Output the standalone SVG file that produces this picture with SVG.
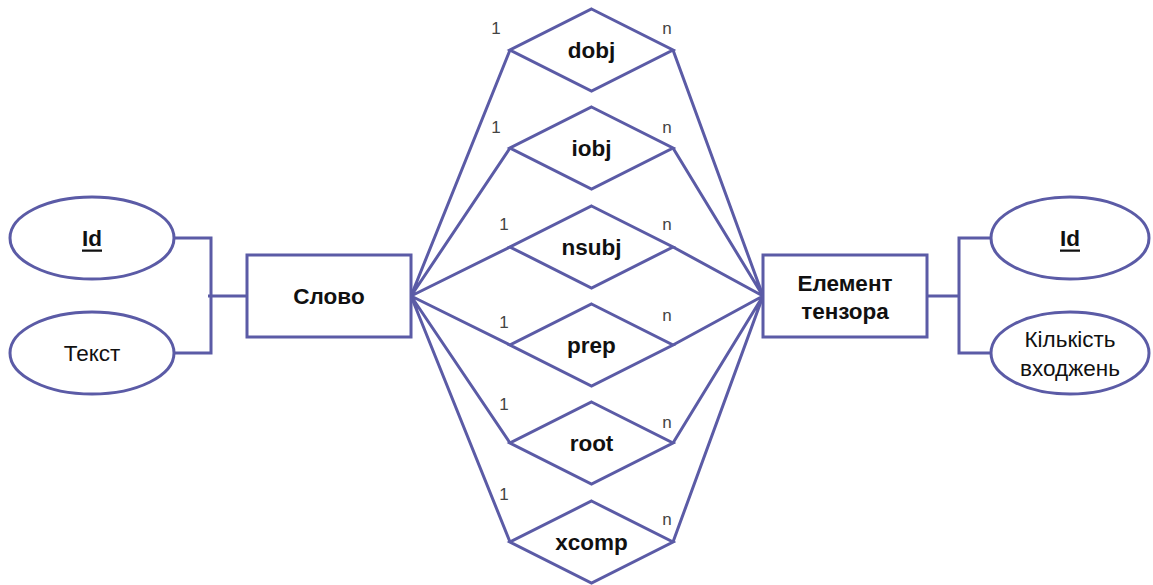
<svg xmlns="http://www.w3.org/2000/svg" width="1153" height="585" viewBox="0 0 1153 585">
<style>
.s{fill:#fff;stroke:#5b5ba6;stroke-width:3}
.c{fill:none;stroke:#5b5ba6;stroke-width:3}
.t{font-family:"Liberation Sans",Arial,sans-serif;font-size:22.5px;fill:#111;text-anchor:middle;dominant-baseline:central}
.b{font-weight:bold}
.m{font-family:"Liberation Sans",Arial,sans-serif;font-size:17px;fill:#444;text-anchor:middle;dominant-baseline:central}
</style>
<rect width="1153" height="585" fill="#fff"/>
<g id="connectors">
<path class="c" d="M174,238 H211 V353 H174 M208,296 H247"/>
<path class="c" d="M927,296 H959 M991,238 H959 V353 H991"/>
<path class="c" d="M411,296 L510,50 M411,296 L510,148 M411,296 L510,247 M411,296 L510,345 M411,296 L510,443 M411,296 L510,542"/>
<path class="c" d="M763,296 L673,50 M763,296 L673,148 M763,296 L673,247 M763,296 L673,345 M763,296 L673,443 M763,296 L673,542"/>
</g>
<g id="slovo"><rect class="s" x="247" y="255" width="164" height="82"/><text class="t b" x="329" y="296">Слово</text></g>
<g id="element"><rect class="s" x="763" y="255" width="164" height="82"/><text class="t b" x="845" y="283">Елемент</text><text class="t b" x="845" y="311">тензора</text></g>
<g id="id-left"><ellipse class="s" cx="92" cy="238" rx="82" ry="41"/><text class="t b" x="92" y="238" text-decoration="underline">Id</text></g>
<g id="tekst"><ellipse class="s" cx="92" cy="353" rx="82" ry="41"/><text class="t" x="92" y="353">Текст</text></g>
<g id="id-right"><ellipse class="s" cx="1070" cy="238" rx="79" ry="41"/><text class="t b" x="1070" y="238" text-decoration="underline">Id</text></g>
<g id="kilkist"><ellipse class="s" cx="1070" cy="353" rx="79" ry="41"/><text class="t" x="1070" y="339">Кількість</text><text class="t" x="1070" y="368">входжень</text></g>
<g id="dobj"><polygon class="s" points="591.5,9 673,50 591.5,91 510,50"/><text class="t b" x="591.5" y="50">dobj</text><text class="m" x="496" y="28">1</text><text class="m" x="667" y="28">n</text></g>
<g id="iobj"><polygon class="s" points="591.5,107 673,148 591.5,189 510,148"/><text class="t b" x="591.5" y="148">iobj</text><text class="m" x="496" y="127">1</text><text class="m" x="667" y="127">n</text></g>
<g id="nsubj"><polygon class="s" points="591.5,206 673,247 591.5,288 510,247"/><text class="t b" x="591.5" y="247">nsubj</text><text class="m" x="504" y="224">1</text><text class="m" x="667" y="224">n</text></g>
<g id="prep"><polygon class="s" points="591.5,304 673,345 591.5,386 510,345"/><text class="t b" x="591.5" y="345">prep</text><text class="m" x="504" y="322">1</text><text class="m" x="667" y="315">n</text></g>
<g id="root"><polygon class="s" points="591.5,402 673,443 591.5,484 510,443"/><text class="t b" x="591.5" y="443">root</text><text class="m" x="504" y="404">1</text><text class="m" x="667" y="422">n</text></g>
<g id="xcomp"><polygon class="s" points="591.5,501 673,542 591.5,583 510,542"/><text class="t b" x="591.5" y="542">xcomp</text><text class="m" x="504" y="494">1</text><text class="m" x="667" y="519">n</text></g>
</svg>
